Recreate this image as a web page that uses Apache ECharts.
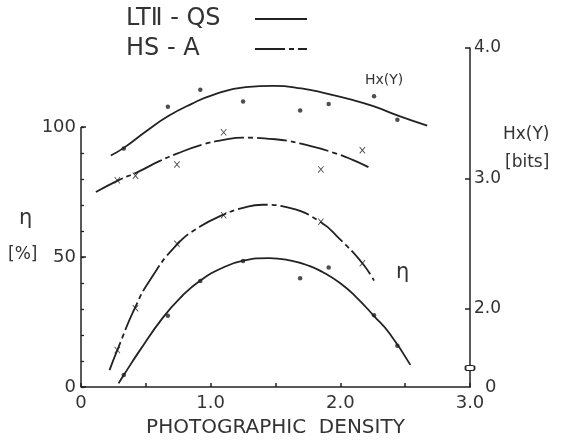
<!DOCTYPE html>
<html>
<head>
<meta charset="utf-8">
<script src="https://cdn.jsdelivr.net/npm/echarts@6/dist/echarts.min.js"></script>
<style>html,body{margin:0;padding:0;background:#fff}#c{width:561px;height:444px}</style>
</head>
<body>
<div id="c"></div>
<script>
// measured points
const densLT = [0.33, 0.67, 0.92, 1.25, 1.69, 1.91, 2.26, 2.44];
const etaLT  = [4.6, 27.4, 40.8, 48.5, 41.8, 46.0, 27.6, 15.9];
const hxLT   = [3.23, 3.55, 3.68, 3.59, 3.52, 3.57, 3.63, 3.45];
const densHS = [0.28, 0.42, 0.74, 1.10, 1.85, 2.17];
const etaHS  = [14.2, 30.3, 55.1, 66.1, 63.6, 47.6];
const hxHS   = [2.985, 3.02, 3.107, 3.353, 3.069, 3.216];
// fitted curves
const cHxLTx  = [0.23, 0.33, 0.50, 0.67, 0.85, 1.02, 1.27, 1.49, 1.70, 1.88, 2.10, 2.26, 2.45, 2.67];
const cHxLTy  = [3.176, 3.234, 3.36, 3.476, 3.57, 3.641, 3.70, 3.71, 3.69, 3.654, 3.60, 3.552, 3.48, 3.405];
const cEtaLTx = [0.29, 0.33, 0.45, 0.63, 0.78, 0.915, 1.08, 1.25, 1.45, 1.61, 1.76, 1.86, 2.00, 2.12, 2.26, 2.38, 2.54];
const cEtaLTy = [1.4, 4.6, 13.8, 26.6, 35.0, 40.8, 45.6, 48.6, 49.6, 48.7, 46.6, 44.3, 39.9, 34.7, 27.3, 20.6, 8.5];
const cHxHSx  = [0.115, 0.287, 0.44, 0.60, 0.74, 0.94, 1.10, 1.25, 1.50, 1.78, 1.95, 2.10, 2.23];
const cHxHSy  = [2.895, 2.985, 3.05, 3.13, 3.19, 3.26, 3.295, 3.312, 3.30, 3.245, 3.196, 3.14, 3.08];
const cEtaHSx = [0.22, 0.28, 0.415, 0.53, 0.736, 0.915, 1.095, 1.25, 1.40, 1.608, 1.85, 1.99, 2.17, 2.26];
const cEtaHSy = [6.5, 14.2, 30.3, 41.0, 54.6, 61.6, 66.2, 68.9, 70.1, 68.9, 63.4, 57.2, 47.6, 40.9];
// ticks
const xLabels = [0, 1, 2, 3];
const leftLabels = [0, 50, 100];
const leftMinorTicks = [0, 10, 20, 30, 40, 50, 60, 70, 80, 90, 100];
const rightLabels = [1.4, 2, 3, 4];
const rightTicks = [2, 3, 4];

const zip = (a, b) => a.map((v, i) => [v, b[i]]);
const INK = '#222';
const FONT = 'DejaVu Sans';
const nameLT = 'LT\u2161 - QS';
const nameHS = 'HS - A';
const dashDot = [30, 4, 5, 4];
const xPath = 'path://M0,1L1,0L5,4L9,0L10,1L6,5L10,9L9,10L5,6L1,10L0,9L4,5Z';
const SM = 0.5;

const chart = echarts.init(document.getElementById('c'), null, {renderer: 'canvas'});
chart.setOption({
  animation: false,
  backgroundColor: '#fff',
  grid: {left: 81, right: 91, top: 48, bottom: 57, containLabel: false},
  legend: {
    orient: 'vertical', left: 121, top: 2, align: 'right',
    itemWidth: 52, itemHeight: 12, itemGap: 6,
    data: [nameLT, nameHS],
    itemStyle: {opacity: 0},
    lineStyle: {width: 2},
    formatter: n => '{a|' + n + '}',
    textStyle: {fontFamily: FONT, fontSize: 24, color: '#333',
      rich: {a: {fontFamily: FONT, fontSize: 24, color: '#333', width: 124, align: 'left', lineHeight: 29}}}
  },
  xAxis: {
    type: 'value', min: 0, max: 3, interval: 0.5,
    name: 'PHOTOGRAPHIC  DENSITY', nameLocation: 'middle', nameGap: 31,
    nameTextStyle: {fontFamily: FONT, fontSize: 20, color: '#333'},
    axisLine: {lineStyle: {color: INK, width: 1.5}},
    axisTick: {inside: true, length: 4, lineStyle: {color: INK, width: 1.5}},
    axisLabel: {customValues: xLabels, formatter: v => v === 0 ? '0' : v.toFixed(1),
      fontFamily: FONT, fontSize: 18, color: '#333', margin: 7},
    splitLine: {show: false}
  },
  yAxis: [
    {
      type: 'value', min: 0, max: 130.4, position: 'left',
      axisLine: {show: false},
      axisTick: {show: true, inside: true, length: 3, customValues: leftMinorTicks, lineStyle: {color: INK, width: 1.3}},
      axisLabel: {customValues: leftLabels, fontFamily: FONT, fontSize: 18, color: '#333', margin: 5},
      splitLine: {show: false}
    },
    {
      type: 'value', min: 1.4, max: 4.0, position: 'right',
      axisLine: {show: true, lineStyle: {color: INK, width: 1.5}},
      axisTick: {show: true, inside: true, length: 5, customValues: rightTicks, lineStyle: {color: INK, width: 1.5}},
      axisLabel: {customValues: rightLabels, formatter: v => v < 1.5 ? '{z|0}' : v.toFixed(1),
        fontFamily: FONT, fontSize: 17, color: '#333', margin: 4,
        rich: {z: {fontFamily: FONT, fontSize: 18, color: '#333', padding: [0, 0, 0, 11]}}},
      splitLine: {show: false}
    },
    {
      type: 'value', min: 0, max: 130.4, position: 'left',
      axisLine: {show: false},
      axisTick: {show: true, inside: true, length: 5, customValues: leftLabels, lineStyle: {color: INK, width: 1.5}},
      axisLabel: {show: false},
      splitLine: {show: false}
    }
  ],
  graphic: [
    {type: 'text', left: 19, top: 208, style: {text: '\u03b7', fontFamily: FONT, fontSize: 21, fill: '#333'}},
    {type: 'text', left: 8, top: 246, style: {text: '[%]', fontFamily: FONT, fontSize: 17, fill: '#333'}},
    {type: 'text', left: 503, top: 126, style: {text: 'Hx(Y)', fontFamily: FONT, fontSize: 17, fill: '#333'}},
    {type: 'text', left: 505, top: 154, style: {text: '[bits]', fontFamily: FONT, fontSize: 17, fill: '#333'}},
    {type: 'text', left: 365, top: 73, style: {text: 'Hx(Y)', fontFamily: FONT, fontSize: 14, fill: '#333'}},
    {type: 'text', left: 396, top: 262, style: {text: '\u03b7', fontFamily: FONT, fontSize: 21, fill: '#333'}}
  ],
  series: [
    {name: nameLT, type: 'line', yAxisIndex: 1, data: zip(cHxLTx, cHxLTy), smooth: SM, symbol: 'none',
      lineStyle: {color: INK, width: 1.8}, itemStyle: {color: INK}, silent: true,
      markPoint: {symbol: 'roundRect', symbolSize: [9, 5], silent: true,
        itemStyle: {color: '#fff', borderColor: INK, borderWidth: 1.3}, label: {show: false},
        data: [{coord: [3, 1.545]}]}},
    {name: nameLT, type: 'line', yAxisIndex: 0, data: zip(cEtaLTx, cEtaLTy), smooth: SM, symbol: 'none',
      lineStyle: {color: INK, width: 1.8}, itemStyle: {color: INK}, silent: true,
      markLine: {symbol: 'none', silent: true, label: {show: false},
        lineStyle: {color: INK, width: 1.5, type: 'solid'},
        data: [[{coord: [0, 0]}, {coord: [0, 100]}]]}},
    {name: nameHS, type: 'line', yAxisIndex: 1, data: zip(cHxHSx, cHxHSy), smooth: SM, symbol: 'none',
      lineStyle: {color: INK, width: 1.8, type: dashDot}, itemStyle: {color: INK}, silent: true},
    {name: nameHS, type: 'line', yAxisIndex: 0, data: zip(cEtaHSx, cEtaHSy), smooth: SM, symbol: 'none',
      lineStyle: {color: INK, width: 1.8, type: dashDot}, itemStyle: {color: INK}, silent: true},
    {name: 'LT eta pts', type: 'scatter', yAxisIndex: 0, data: zip(densLT, etaLT), symbol: 'circle', symbolSize: 4.5,
      itemStyle: {color: INK}, silent: true},
    {name: 'LT hx pts', type: 'scatter', yAxisIndex: 1, data: zip(densLT, hxLT), symbol: 'circle', symbolSize: 4.5,
      itemStyle: {color: INK}, silent: true},
    {name: 'HS eta pts', type: 'scatter', yAxisIndex: 0, data: zip(densHS, etaHS), symbol: xPath, symbolSize: [6, 7],
      itemStyle: {color: INK}, silent: true},
    {name: 'HS hx pts', type: 'scatter', yAxisIndex: 1, data: zip(densHS, hxHS), symbol: xPath, symbolSize: [6, 7],
      itemStyle: {color: INK}, silent: true}
  ]
});
</script>
</body>
</html>
